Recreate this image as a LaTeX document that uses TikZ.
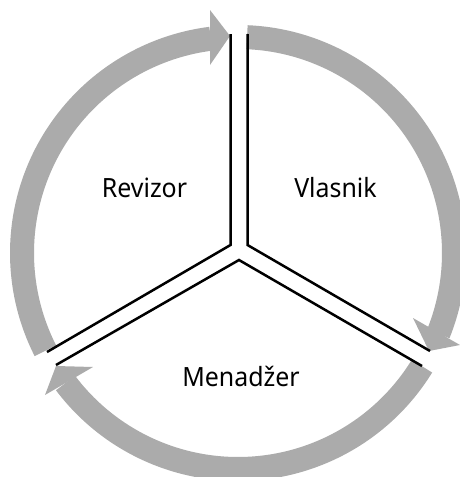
\documentclass[tikz,border=0pt]{standalone}
\usepackage{fontspec}
\setmainfont[FakeStretch=0.94]{Noto Sans}
\definecolor{ringgray}{HTML}{ABABAB}
\begin{document}
\begin{tikzpicture}[x=1pt,y=-1pt,
  divider/.style={draw=black,line width=2.5pt,line cap=butt,line join=miter},
  band/.style={draw=ringgray,line width=24pt,line cap=butt},
  head/.style={fill=ringgray,draw=none},
  lbl/.style={font=\fontsize{26.5}{30}\selectfont,inner sep=0pt,text=black,anchor=base}]
\useasboundingbox (0,0) rectangle (460,477);
\begin{scope}
\clip (0,0) rectangle (460,477);
\coordinate (C) at (238,253);
\draw[band] (C) ++ (87.6:216pt) arc[start angle=87.6,end angle=-22,radius=216pt];
\draw[band] (C) ++ (-31.6:216pt) arc[start angle=-31.6,end angle=-143,radius=216pt];
\draw[band] (C) ++ (206.9:216pt) arc[start angle=206.9,end angle=97.2,radius=216pt];
\fill[head] (413,318) -- (429,351) -- (460,345) -- cycle;
\fill[head] (93,367) -- (56,366) -- (45,395) -- cycle;
\fill[head] (210,10) -- (230,36) -- (210,65) -- cycle;
\end{scope}
\coordinate (a1) at (230.5,34); \coordinate (a2) at (230.5,245); \coordinate (a3) at (47,352);
\coordinate (b1) at (247.5,34); \coordinate (b2) at (247.5,245); \coordinate (b3) at (430,351);
\coordinate (c1) at (56,365); \coordinate (c2) at (239,260); \coordinate (c3) at (422,366);
\draw[divider] (a1) -- (a2) -- (a3);
\draw[divider] (b1) -- (b2) -- (b3);
\draw[divider] (c1) -- (c2) -- (c3);
\node[lbl] (rev) at (144.5,197) {Revizor};
\node[lbl] (vla) at (335.5,197) {Vlasnik};
\node[lbl] (men) at (241,386) {Menadžer};
\end{tikzpicture}
\end{document}
